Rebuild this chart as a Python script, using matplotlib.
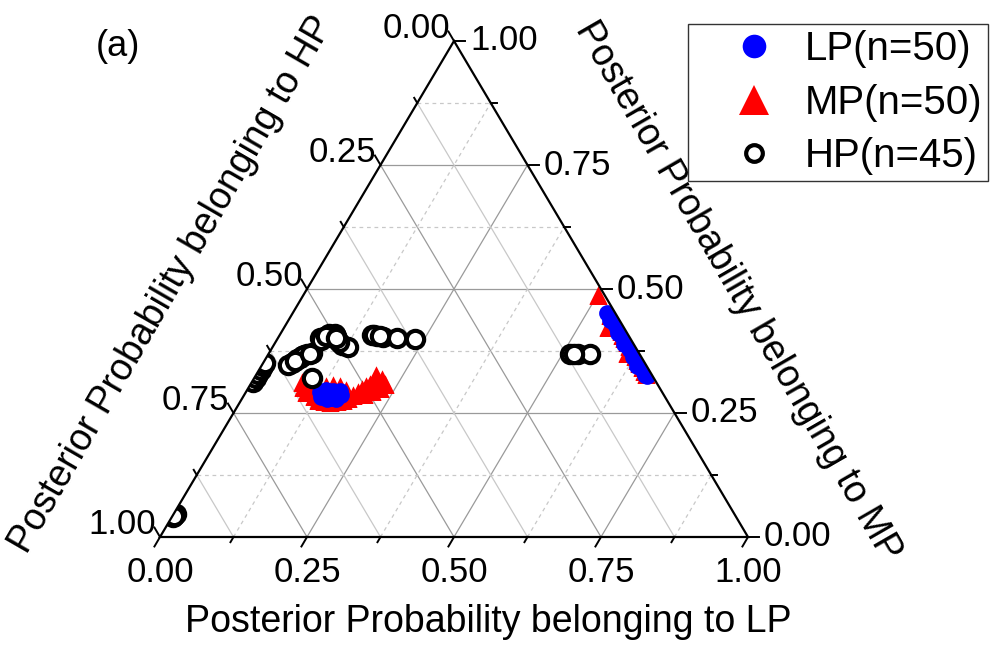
import numpy as np
import matplotlib
matplotlib.use("Agg")
import matplotlib.pyplot as plt
from matplotlib.lines import Line2D
from matplotlib.patches import Polygon

plt.rcParams['font.family'] = ['Liberation Sans', 'DejaVu Sans']

# ---- posterior probabilities (LP, MP); HP = 1 - LP - MP ----
lp_group_LP = [0.126, 0.135, 0.145, 0.151, 0.155, 0.157, 0.165, 0.147, 0.134, 0.143,
               0.133, 0.160, 0.159, 0.134, 0.140,
               0.534, 0.541, 0.549, 0.551, 0.559, 0.565, 0.567, 0.575, 0.577, 0.584,
               0.591, 0.592, 0.599, 0.606, 0.607, 0.610, 0.618, 0.623, 0.624, 0.631,
               0.634, 0.640, 0.641, 0.647, 0.652, 0.653, 0.657, 0.661, 0.661, 0.665,
               0.546, 0.573, 0.594, 0.623, 0.639]
lp_group_MP = [0.292, 0.284, 0.278, 0.280, 0.286, 0.292, 0.286, 0.294, 0.296, 0.288,
               0.282, 0.278, 0.294, 0.290, 0.287,
               0.452, 0.447, 0.441, 0.436, 0.430, 0.426, 0.421, 0.415, 0.410, 0.405,
               0.400, 0.396, 0.391, 0.386, 0.382, 0.377, 0.372, 0.368, 0.364, 0.359,
               0.355, 0.351, 0.347, 0.343, 0.340, 0.336, 0.333, 0.330, 0.327, 0.325,
               0.438, 0.412, 0.389, 0.362, 0.345]

mp_group_LP = [0.092, 0.102, 0.102, 0.120, 0.131, 0.142, 0.153, 0.164, 0.173, 0.180,
               0.185, 0.168, 0.154, 0.141, 0.130, 0.119, 0.111, 0.191, 0.195, 0.198,
               0.203, 0.208, 0.213, 0.219, 0.229, 0.224, 0.214, 0.203, 0.204, 0.086,
               0.501, 0.550, 0.609,
               0.542, 0.551, 0.558, 0.567, 0.576, 0.582, 0.588, 0.597, 0.604, 0.613,
               0.617, 0.626, 0.633, 0.639, 0.649, 0.655, 0.662]
mp_group_MP = [0.302, 0.292, 0.306, 0.284, 0.276, 0.274, 0.272, 0.274, 0.276, 0.280,
               0.286, 0.296, 0.304, 0.306, 0.304, 0.300, 0.296, 0.292, 0.298, 0.304,
               0.308, 0.312, 0.316, 0.318, 0.308, 0.300, 0.294, 0.288, 0.326, 0.312,
               0.488, 0.424, 0.370,
               0.448, 0.440, 0.431, 0.423, 0.416, 0.408, 0.401, 0.394, 0.386, 0.379,
               0.372, 0.365, 0.357, 0.350, 0.342, 0.335, 0.329]

hp_group_LP = [0.003, 0.004, 0.002, 0.003, 0.004, 0.003,
               0.0495, 0.054, 0.0595, 0.066, 0.0735, 0.045, 0.058, 0.062, 0.052, 0.070,
               0.0985,
               0.0786, 0.085, 0.101, 0.1155, 0.1277, 0.071, 0.092, 0.108, 0.082, 0.088,
               0.096, 0.075, 0.080, 0.098,
               0.1565, 0.166, 0.177, 0.202, 0.2337, 0.161, 0.171,
               0.513, 0.527, 0.547, 0.520,
               0.002, 0.004, 0.003]
hp_group_MP = [0.312, 0.320, 0.328, 0.336, 0.344, 0.351,
               0.350, 0.358, 0.364, 0.368, 0.370, 0.346, 0.360, 0.366, 0.354, 0.369,
               0.320,
               0.404, 0.408, 0.400, 0.388, 0.384, 0.402, 0.410, 0.394, 0.410, 0.404,
               0.406, 0.398, 0.406, 0.402,
               0.408, 0.406, 0.404, 0.402, 0.400, 0.407, 0.405,
               0.368, 0.368, 0.368, 0.368,
               0.040, 0.046, 0.043]

tick_values = [0.00, 0.25, 0.50, 0.75, 1.00]
minor_values = [0.125, 0.375, 0.625, 0.875]
tick_labels = ["0.00", "0.25", "0.50", "0.75", "1.00"]
legend_labels = ["LP(n=50)", "MP(n=50)", "HP(n=45)"]

W, H = 992, 646
fig = plt.figure(figsize=(W / 100, H / 100), dpi=100)
# triangle bounding box in pixels: left 160, right 748, bottom 537, top 41
ax = fig.add_axes([160 / W, (H - 537) / H, 588 / W, 496 / H])
ax.set_xlim(0, 1)
ax.set_ylim(0, 1)
ax.axis('off')
PX, PY = 1 / 588, 1 / 496


def tern(lp, mp):
    lp = np.asarray(lp, float)
    mp = np.asarray(mp, float)
    return lp + 0.5 * mp, mp


def ftext(px, py, s, **kw):
    fig.text(px / W, 1 - py / H, s, **kw)


# grid lines
major_c, minor_c = '#9a9a9a', '#c8c8c8'
for v in [0.25, 0.5, 0.75] + minor_values:
    major = v in (0.25, 0.5, 0.75)
    col = major_c if major else minor_c
    ls_dash = '-' if major else (0, (3, 3))
    # constant LP
    x0, y0 = tern(v, 0)
    x1, y1 = tern(v, 1 - v)
    ax.plot([x0, x1], [y0, y1], color=col, lw=0.9, ls=ls_dash, zorder=1)
    # constant MP
    x0, y0 = tern(0, v)
    x1, y1 = tern(1 - v, v)
    ax.plot([x0, x1], [y0, y1], color=col, lw=0.9, ls=ls_dash, zorder=1)
    # constant HP
    x0, y0 = tern(1 - v, 0)
    x1, y1 = tern(0, 1 - v)
    ax.plot([x0, x1], [y0, y1], color=col, lw=0.9, ls='-', zorder=1)

# triangle frame
tri = Polygon([(0, 0), (1, 0), (0.5, 1)], closed=True, fill=False,
              edgecolor='black', lw=1.6, zorder=6, clip_on=False)
ax.add_patch(tri)
clip_tri = Polygon([(0, 0), (1, 0), (0.5, 1)], closed=True,
                   transform=ax.transData)

# ticks
ux, uy = 0.507, 0.862
for v in tick_values + minor_values:
    L = 11 if v in tick_values else 6
    # bottom (LP): down-left
    ax.plot([v, v - ux * L * PX], [0, -uy * L * PY], color='black', lw=1.4,
            clip_on=False, zorder=6)
    # right (MP): horizontal to the right
    x, y = tern(1 - v, v)
    ax.plot([x, x + L * PX], [y, y], color='black', lw=1.4, clip_on=False, zorder=6)
    # left (HP): up-left
    x, y = tern(0, 1 - v)
    ax.plot([x, x - ux * L * PX], [y, y + uy * L * PY], color='black', lw=1.4,
            clip_on=False, zorder=6)

tfs = 25
for v, lab in zip(tick_values, tick_labels):
    px = 160 + v * 588
    ftext(px, 573, lab, fontsize=tfs, ha='center', va='center')
    # right axis
    x, y = tern(1 - v, v)
    ftext(160 + x * 588 + 16, 537 - y * 496, lab, fontsize=tfs, ha='left', va='center')
    # left axis (HP = v)
    x, y = tern(0, 1 - v)
    ftext(160 + x * 588 - 4, 537 - y * 496 - 13, lab, fontsize=tfs, ha='right', va='center')

# axis titles
afs = 27
ftext(488, 622, "Posterior Probability belonging to LP", fontsize=afs,
      ha='center', va='center')
ftext(172, 285, "Posterior Probability belonging to HP", fontsize=afs,
      ha='center', va='center', rotation=60, rotation_mode='anchor')
ftext(738, 291, "Posterior Probability belonging to MP", fontsize=afs,
      ha='center', va='center', rotation=-60, rotation_mode='anchor')
ftext(118, 46, "(a)", fontsize=26, ha='center', va='center')

# scatter groups
x, y = tern(mp_group_LP, mp_group_MP)
s_mp = ax.scatter(x, y, marker='^', s=175, color='#ff0000', linewidths=0, zorder=3)
x, y = tern(lp_group_LP, lp_group_MP)
s_lp = ax.scatter(x, y, marker='o', s=145, color='#0000ff', linewidths=0, zorder=4)
x, y = tern(hp_group_LP, hp_group_MP)
s_hp = ax.scatter(x, y, marker='o', s=155, facecolors='white', edgecolors='black',
                  linewidths=3.0, zorder=5)
for sc in (s_mp, s_lp, s_hp):
    sc.set_clip_path(clip_tri)

# legend
handles = [
    Line2D([], [], ls='none', marker='o', ms=17, color='#0000ff', mew=0),
    Line2D([], [], ls='none', marker='^', ms=21, color='#ff0000', mew=0),
    Line2D([], [], ls='none', marker='o', ms=12, mfc='white', mec='black', mew=3.0),
]
leg = fig.legend(handles, legend_labels, loc='upper left',
                 bbox_to_anchor=(688 / W, 1 - 24 / H), frameon=True, fancybox=False,
                 edgecolor='black', fontsize=29, borderaxespad=0, borderpad=0.15,
                 handlelength=3.0, handletextpad=-0.25, labelspacing=0.39)
leg.get_frame().set_linewidth(1.0)

fig.savefig("out.png", dpi=100)
